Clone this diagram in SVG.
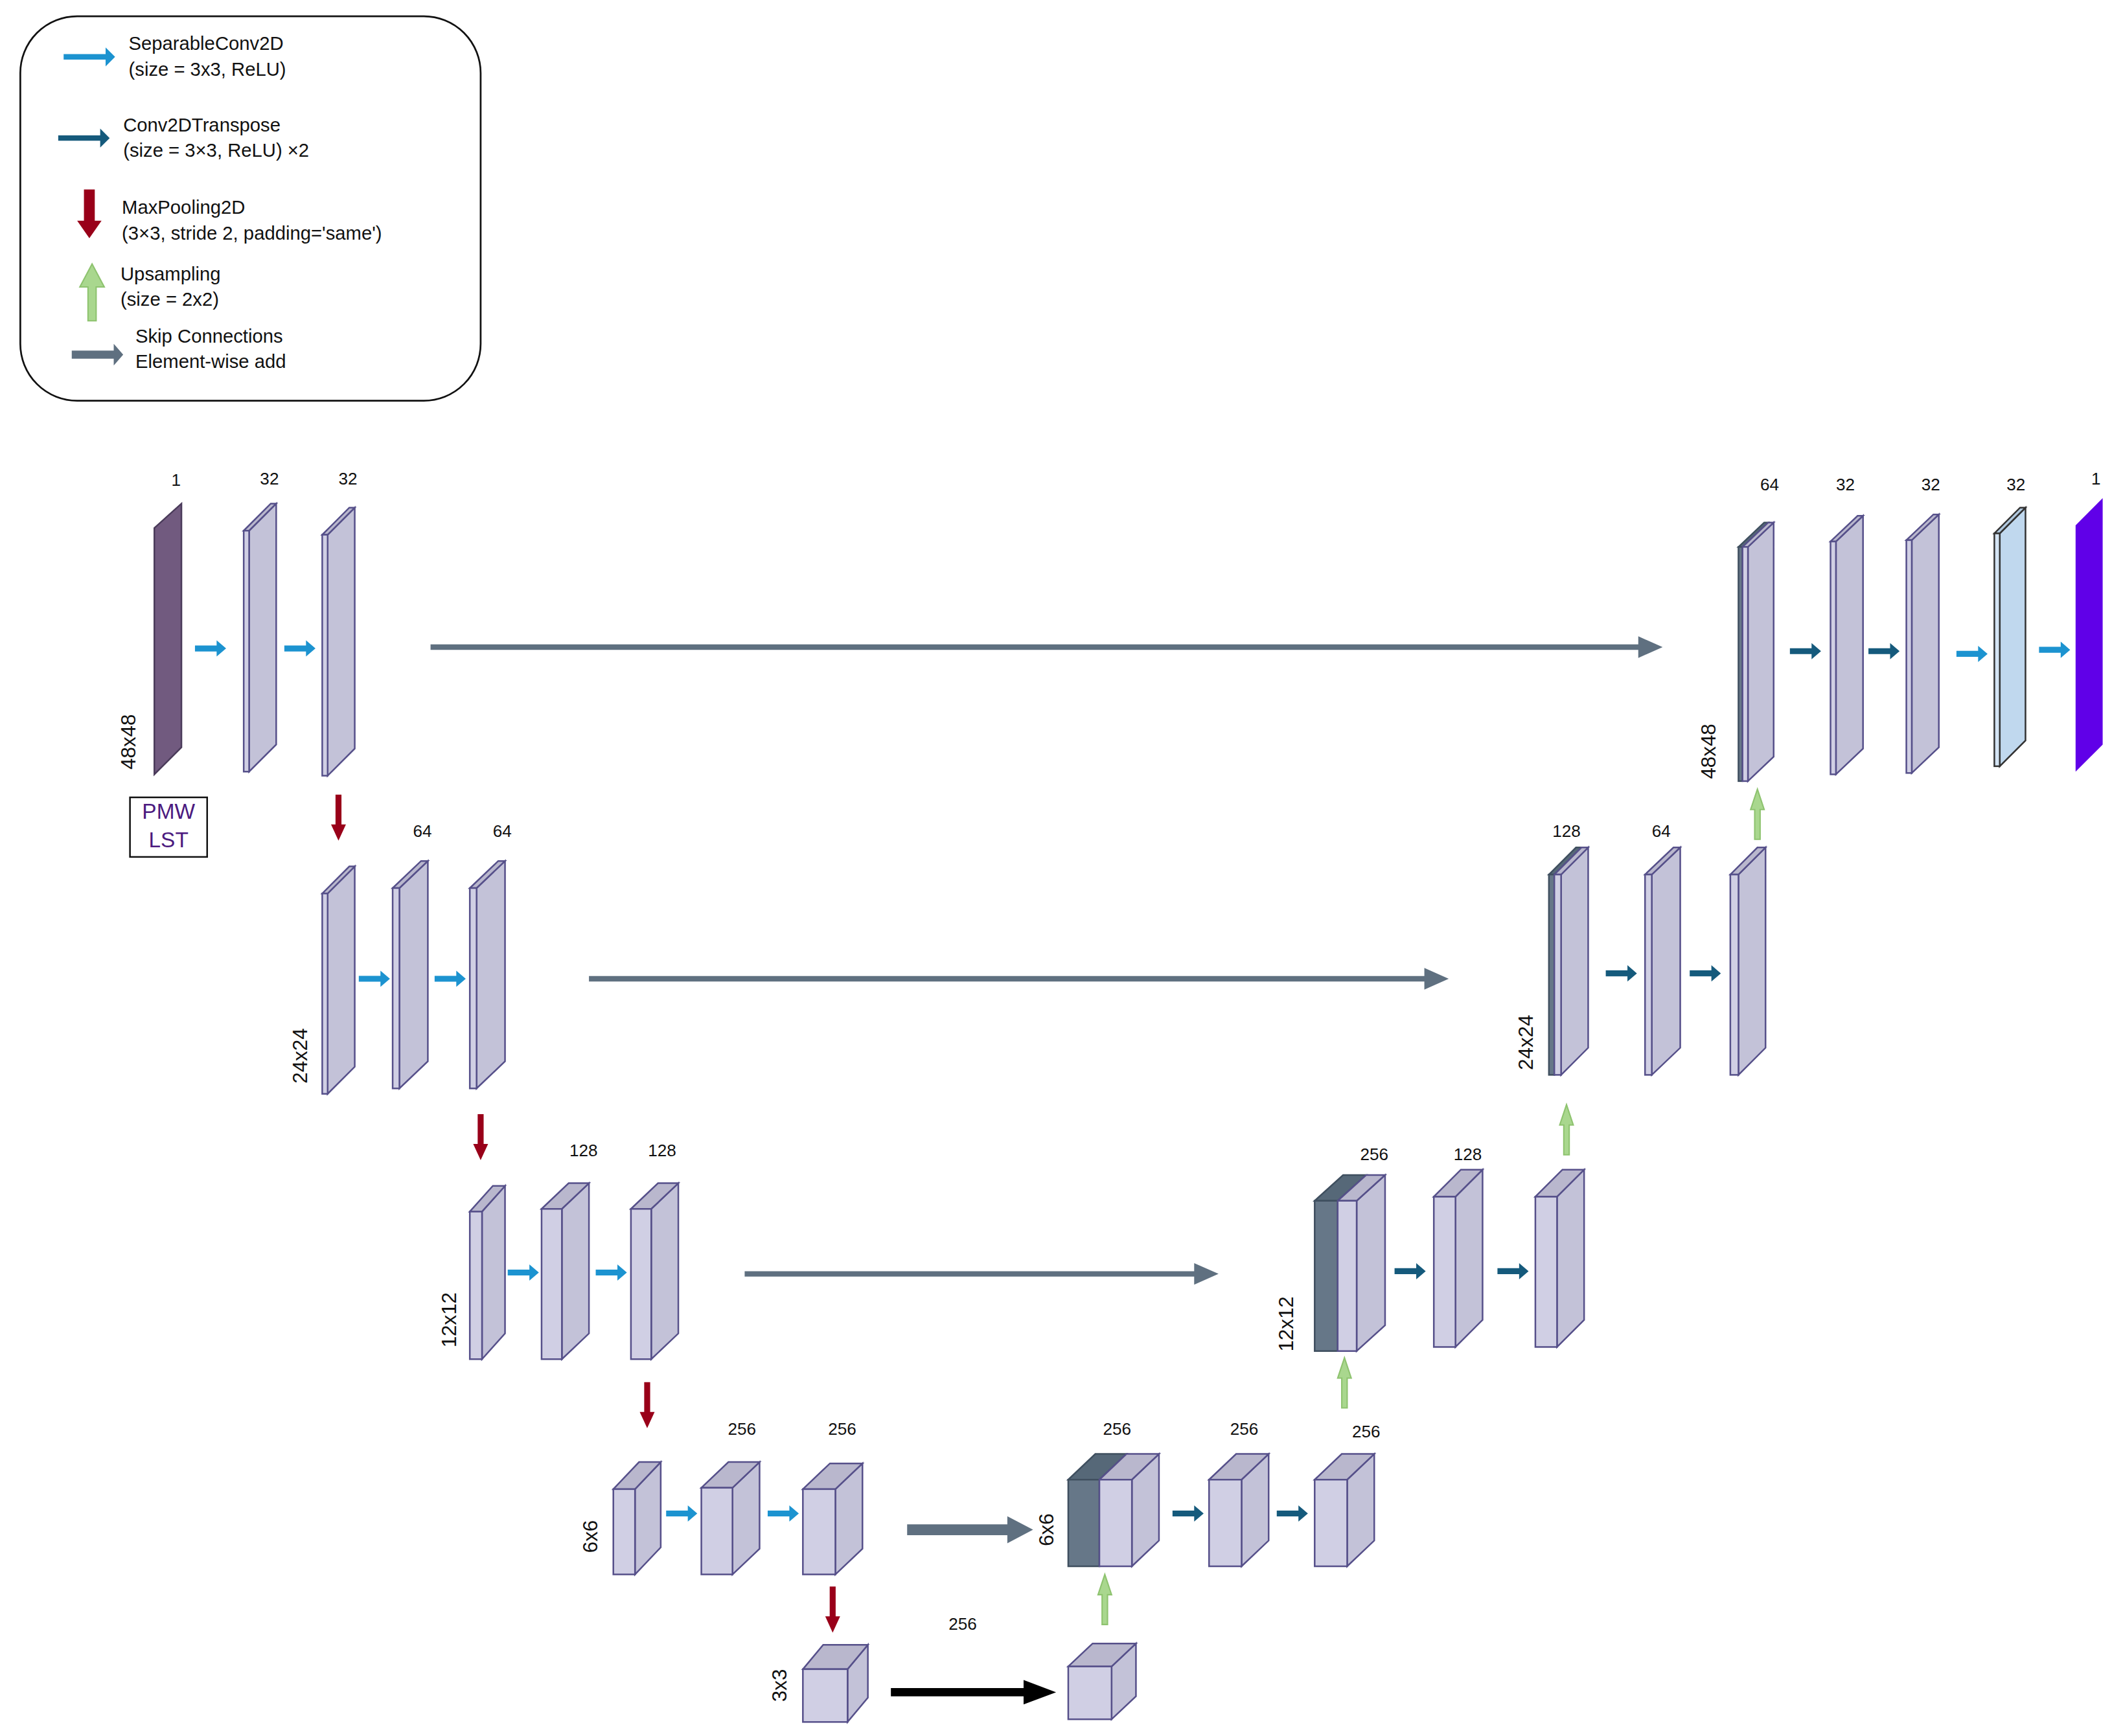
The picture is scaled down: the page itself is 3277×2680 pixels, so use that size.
<svg xmlns="http://www.w3.org/2000/svg" xmlns:xlink="http://www.w3.org/1999/xlink" width="3277" height="2680" viewBox="0 0 3277 2680">
<style>
text{font-family:"Liberation Sans",Arial,sans-serif;fill:#111;}
.lg{font-size:14px;}
.n{font-size:12.5px;text-anchor:middle;}
.d{font-size:15px;text-anchor:middle;}
.fr{fill:#d0cfe4;stroke:#56508a;stroke-width:1.2;}
.sd{fill:#c3c2d8;stroke:#56508a;stroke-width:1.2;}
.tp{fill:#b9b7cd;stroke:#56508a;stroke-width:1.2;}
.dk{fill:#667788;stroke:#3f4f5f;stroke-width:1.2;}
.dkt{fill:#566878;stroke:#3f4f5f;stroke-width:1.2;}
.blue{fill:#1c93d0;}
.teal{fill:#155a7c;}
.red{fill:#990019;}
.green{fill:#a9d78e;stroke:#8ec36f;stroke-width:1;}
.skip{fill:#5f7080;}
</style>
<defs>
<path id="ab" d="M0,-2.2 H16 V-6 L23,0 L16,6 V2.2 H0 Z"/>
<path id="ar" d="M-2.2,0 H2.2 V22 H5.5 L0,34 L-5.5,22 H-2.2 Z"/>
<path id="ag" d="M-2,0 V-22 H-5 L0,-37 L5,-22 H2 V0 Z"/>
</defs>
<rect width="3277" height="2680" fill="#fff"/>
<g transform="scale(2.0899)">
<g id="legend">
<rect x="15" y="12" width="340" height="284" rx="42" fill="#fff" stroke="#111" stroke-width="1.3"/>
<path class="blue" d="M47,40 H78 V35 L85,42 L78,49 V44 H47 Z"/>
<text class="lg" x="95" y="37">SeparableConv2D</text><text class="lg" x="95" y="56">(size = 3x3, ReLU)</text>
<path class="teal" d="M43,100 H74 V95 L81,102 L74,109 V104 H43 Z"/>
<text class="lg" x="91" y="97">Conv2DTranspose</text><text class="lg" x="91" y="116">(size = 3×3, ReLU) ×2</text>
<path class="red" d="M62,140 H70 V163 H75 L66,176 L57,163 H62 Z"/>
<text class="lg" x="90" y="158">MaxPooling2D</text><text class="lg" x="90" y="177">(3×3, stride 2, padding='same')</text>
<path class="green" d="M65,237 V212 H59 L68,195 L77,212 H71 V237 Z"/>
<text class="lg" x="89" y="207">Upsampling</text><text class="lg" x="89" y="226">(size = 2x2)</text>
<path class="skip" d="M53,259 H84 V254 L91,262 L84,270 V265 H53 Z"/>
<text class="lg" x="100" y="253">Skip Connections</text><text class="lg" x="100" y="272">Element-wise add</text>
</g>

<g id="connectors">
<path class="skip" d="M318,476 H1210 V470 L1228,478 L1210,486 V480 H318 Z"/>
<path class="skip" d="M435,721 H1052 V715 L1070,723 L1052,731 V725 H435 Z"/>
<path class="skip" d="M550,939 H882 V933 L900,941 L882,949 V943 H550 Z"/>
<path class="skip" d="M670,1126 H744 V1120 L763,1130 L744,1140 V1134 H670 Z"/>
<path fill="#000" d="M658,1247 H756 V1241 L780,1250 L756,1259 V1253 H658 Z"/>
<use href="#ab" class="blue" x="144" y="479"/>
<use href="#ab" class="blue" x="210" y="479"/>
<use href="#ab" class="blue" x="265" y="723"/>
<use href="#ab" class="blue" x="321" y="723"/>
<use href="#ab" class="blue" x="375" y="940"/>
<use href="#ab" class="blue" x="440" y="940"/>
<use href="#ab" class="blue" x="492" y="1118"/>
<use href="#ab" class="blue" x="567" y="1118"/>
<use href="#ab" class="teal" x="866" y="1118"/>
<use href="#ab" class="teal" x="943" y="1118"/>
<use href="#ab" class="teal" x="1030" y="939"/>
<use href="#ab" class="teal" x="1106" y="939"/>
<use href="#ab" class="teal" x="1186" y="719"/>
<use href="#ab" class="teal" x="1248" y="719"/>
<use href="#ab" class="teal" x="1322" y="481"/>
<use href="#ab" class="teal" x="1380" y="481"/>
<use href="#ab" class="blue" x="1445" y="483"/>
<use href="#ab" class="blue" x="1506" y="480"/>
<use href="#ar" class="red" x="250" y="587"/>
<use href="#ar" class="red" x="355" y="823"/>
<use href="#ar" class="red" x="478" y="1021"/>
<use href="#ar" class="red" x="615" y="1172"/>
<use href="#ag" class="green" x="816" y="1200"/>
<use href="#ag" class="green" x="993" y="1040"/>
<use href="#ag" class="green" x="1157" y="853"/>
<use href="#ag" class="green" x="1298" y="620"/>
</g>

<g id="input">
<path d="M114,390 L134,372 L134,552 L114,572 Z" fill="#715a7f" stroke="#4a3b5a" stroke-width="1.2"/>
<text class="n" x="130" y="359">1</text>
<text class="d" transform="translate(95,548) rotate(-90)" y="5">48x48</text>
<rect x="96" y="589" width="57" height="44" fill="#fff" stroke="#111" stroke-width="1.2"/>
<text x="124.5" y="605" style="font-size:16px;fill:#4b1a7f;text-anchor:middle">PMW</text>
<text x="124.5" y="626" style="font-size:16px;fill:#4b1a7f;text-anchor:middle">LST</text>
</g>

<g id="e1a"><path class="sd" d="M184,392 L204,372 L204,550 L184,570 Z"/><path class="tp" d="M180,392 L200,372 L204,372 L184,392 Z"/><rect class="fr" x="180" y="392" width="4" height="178"/><text class="n" x="199" y="358">32</text></g>
<g id="e1b"><path class="sd" d="M242,395 L262,375 L262,553 L242,573 Z"/><path class="tp" d="M238,395 L258,375 L262,375 L242,395 Z"/><rect class="fr" x="238" y="395" width="4" height="178"/><text class="n" x="257" y="358">32</text></g>

<g id="e2a"><path class="sd" d="M242,660 L262,640 L262,788 L242,808 Z"/><path class="tp" d="M238,660 L258,640 L262,640 L242,660 Z"/><rect class="fr" x="238" y="660" width="4" height="148"/><text class="d" transform="translate(222,780) rotate(-90)" y="5">24x24</text></g>
<g id="e2b"><path class="sd" d="M295,656 L316,636 L316,784 L295,804 Z"/><path class="tp" d="M290,656 L311,636 L316,636 L295,656 Z"/><rect class="fr" x="290" y="656" width="5" height="148"/><text class="n" x="312" y="618">64</text></g>
<g id="e2c"><path class="sd" d="M352,656 L373,636 L373,784 L352,804 Z"/><path class="tp" d="M347,656 L368,636 L373,636 L352,656 Z"/><rect class="fr" x="347" y="656" width="5" height="148"/><text class="n" x="371" y="618">64</text></g>

<g id="e3a"><path class="sd" d="M356,895 L373,876 L373,985 L356,1004 Z"/><path class="tp" d="M347,895 L364,876 L373,876 L356,895 Z"/><rect class="fr" x="347" y="895" width="9" height="109"/><text class="d" transform="translate(332,975) rotate(-90)" y="5">12x12</text></g>
<g id="e3b"><path class="sd" d="M415,893 L435,874 L435,985 L415,1004 Z"/><path class="tp" d="M400,893 L420,874 L435,874 L415,893 Z"/><rect class="fr" x="400" y="893" width="15" height="111"/><text class="n" x="431" y="854">128</text></g>
<g id="e3c"><path class="sd" d="M481,893 L501,874 L501,985 L481,1004 Z"/><path class="tp" d="M466,893 L486,874 L501,874 L481,893 Z"/><rect class="fr" x="466" y="893" width="15" height="111"/><text class="n" x="489" y="854">128</text></g>

<g id="e4a"><path class="sd" d="M469,1100 L488,1080 L488,1143 L469,1163 Z"/><path class="tp" d="M453,1100 L472,1080 L488,1080 L469,1100 Z"/><rect class="fr" x="453" y="1100" width="16" height="63"/><text class="d" transform="translate(436,1135) rotate(-90)" y="5">6x6</text></g>
<g id="e4b"><path class="sd" d="M541,1099 L561,1080 L561,1144 L541,1163 Z"/><path class="tp" d="M518,1099 L538,1080 L561,1080 L541,1099 Z"/><rect class="fr" x="518" y="1099" width="23" height="64"/><text class="n" x="548" y="1060">256</text></g>
<g id="e4c"><path class="sd" d="M617,1100 L637,1081 L637,1144 L617,1163 Z"/><path class="tp" d="M593,1100 L613,1081 L637,1081 L617,1100 Z"/><rect class="fr" x="593" y="1100" width="24" height="63"/><text class="n" x="622" y="1060">256</text></g>

<g id="b1"><path class="sd" d="M626,1233 L641,1215 L641,1254 L626,1272 Z"/><path class="tp" d="M593,1233 L608,1215 L641,1215 L626,1233 Z"/><rect class="fr" x="593" y="1233" width="33" height="39"/><text class="d" transform="translate(576,1245) rotate(-90)" y="5">3x3</text></g>
<g id="b2"><path class="sd" d="M821,1231 L839,1214 L839,1253 L821,1270 Z"/><path class="tp" d="M789,1231 L807,1214 L839,1214 L821,1231 Z"/><rect class="fr" x="789" y="1231" width="32" height="39"/><text class="n" x="711" y="1204">256</text></g>

<g id="d4a"><path class="sd" d="M836,1093 L856,1074 L856,1138 L836,1157 Z"/><path class="dkt" d="M789,1093 L809,1074 L832,1074 L812,1093 Z"/><path class="tp" d="M812,1093 L832,1074 L856,1074 L836,1093 Z"/><rect class="dk" x="789" y="1093" width="23" height="64"/><rect class="fr" x="812" y="1093" width="24" height="64"/><text class="n" x="825" y="1060">256</text><text class="d" transform="translate(773,1130) rotate(-90)" y="5">6x6</text></g>
<g id="d4b"><path class="sd" d="M917,1093 L937,1074 L937,1138 L917,1157 Z"/><path class="tp" d="M893,1093 L913,1074 L937,1074 L917,1093 Z"/><rect class="fr" x="893" y="1093" width="24" height="64"/><text class="n" x="919" y="1060">256</text></g>
<g id="d4c"><path class="sd" d="M995,1093 L1015,1074 L1015,1138 L995,1157 Z"/><path class="tp" d="M971,1093 L991,1074 L1015,1074 L995,1093 Z"/><rect class="fr" x="971" y="1093" width="24" height="64"/><text class="n" x="1009" y="1062">256</text></g>

<g id="d3a"><path class="sd" d="M1002,887 L1023,868 L1023,979 L1002,998 Z"/><path class="dkt" d="M971,887 L992,868 L1009,868 L988,887 Z"/><path class="tp" d="M988,887 L1009,868 L1023,868 L1002,887 Z"/><rect class="dk" x="971" y="887" width="17" height="111"/><rect class="fr" x="988" y="887" width="14" height="111"/><text class="n" x="1015" y="857">256</text><text class="d" transform="translate(950,978) rotate(-90)" y="5">12x12</text></g>
<g id="d3b"><path class="sd" d="M1075,884 L1095,864 L1095,975 L1075,995 Z"/><path class="tp" d="M1059,884 L1079,864 L1095,864 L1075,884 Z"/><rect class="fr" x="1059" y="884" width="16" height="111"/><text class="n" x="1084" y="857">128</text></g>
<g id="d3c"><path class="sd" d="M1150,884 L1170,864 L1170,975 L1150,995 Z"/><path class="tp" d="M1134,884 L1154,864 L1170,864 L1150,884 Z"/><rect class="fr" x="1134" y="884" width="16" height="111"/></g>

<g id="d2a"><path class="sd" d="M1153,646 L1173,626 L1173,774 L1153,794 Z"/><path class="dkt" d="M1144,646 L1164,626 L1168,626 L1148,646 Z"/><path class="tp" d="M1148,646 L1168,626 L1173,626 L1153,646 Z"/><rect class="dk" x="1144" y="646" width="4" height="148"/><rect class="fr" x="1148" y="646" width="5" height="148"/><text class="n" x="1157" y="618">128</text><text class="d" transform="translate(1127,770) rotate(-90)" y="5">24x24</text></g>
<g id="d2b"><path class="sd" d="M1220,646 L1241,626 L1241,774 L1220,794 Z"/><path class="tp" d="M1215,646 L1236,626 L1241,626 L1220,646 Z"/><rect class="fr" x="1215" y="646" width="5" height="148"/><text class="n" x="1227" y="618">64</text></g>
<g id="d2c"><path class="sd" d="M1284,646 L1304,626 L1304,774 L1284,794 Z"/><path class="tp" d="M1278,646 L1298,626 L1304,626 L1284,646 Z"/><rect class="fr" x="1278" y="646" width="6" height="148"/></g>

<g id="d1a"><path class="sd" d="M1291,404 L1310,386 L1310,559 L1291,577 Z"/><path class="dkt" d="M1284,404 L1303,386 L1306,386 L1287,404 Z"/><path class="tp" d="M1287,404 L1306,386 L1310,386 L1291,404 Z"/><rect class="dk" x="1284" y="404" width="3" height="173"/><rect class="fr" x="1287" y="404" width="4" height="173"/><text class="n" x="1307" y="362">64</text><text class="d" transform="translate(1262,555) rotate(-90)" y="5">48x48</text></g>
<g id="d1b"><path class="sd" d="M1356,400 L1376,381 L1376,553 L1356,572 Z"/><path class="tp" d="M1352,400 L1372,381 L1376,381 L1356,400 Z"/><rect class="fr" x="1352" y="400" width="4" height="172"/><text class="n" x="1363" y="362">32</text></g>
<g id="d1c"><path class="sd" d="M1412,399 L1432,380 L1432,552 L1412,571 Z"/><path class="tp" d="M1408,399 L1428,380 L1432,380 L1412,399 Z"/><rect class="fr" x="1408" y="399" width="4" height="172"/><text class="n" x="1426" y="362">32</text></g>
<g id="d1d"><path d="M1477,394 L1496,375 L1496,547 L1477,566 Z" fill="#c0d8ee" stroke="#333" stroke-width="1.2"/><path d="M1473,394 L1492,375 L1496,375 L1477,394 Z" fill="#b0c8de" stroke="#333" stroke-width="1.2"/><rect x="1473" y="394" width="4" height="172" fill="#d4e4f4" stroke="#333" stroke-width="1.2"/><text class="n" x="1489" y="362">32</text></g>
<g id="output"><path d="M1533,388 L1553,368 L1553,550 L1533,570 Z" fill="#6000e8"/><text class="n" x="1548" y="358">1</text></g>
</g>
</svg>
